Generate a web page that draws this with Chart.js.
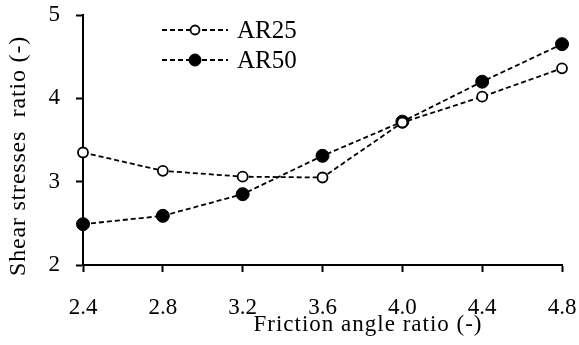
<!DOCTYPE html>
<html>
<head>
<meta charset="utf-8">
<script src="https://cdn.jsdelivr.net/npm/chart.js@4/dist/chart.umd.min.js"></script>
<style>
html, body { margin: 0; padding: 0; background: #fff; }
#wrap { width: 579px; height: 345px; }
</style>
</head>
<body>
<div id="wrap"><canvas id="myChart"></canvas></div>
<script>
// friction angle ratio on x, shear stress ratio on y
const frictionRatio = ['2.4', '2.8', '3.2', '3.6', '4.0', '4.4', '4.8'];
const ar25 = [3.35, 3.13, 3.06, 3.05, 3.71, 4.02, 4.36];
const ar50 = [2.49, 2.59, 2.85, 3.31, 3.72, 4.20, 4.65];
const yMin = 2, yMax = 5, yStep = 1;

const serif = '"Liberation Serif", "Times New Roman", serif';

// axis titles + legend with line and marker
const extras = {
    id: 'extras',
    afterDraw(chart) {
        const { ctx, chartArea: a } = chart;
        ctx.save();
        ctx.fillStyle = '#000';
        ctx.font = '23px ' + serif;
        ctx.textAlign = 'center';
        ctx.textBaseline = 'middle';
        ctx.letterSpacing = '1px';
        ctx.fillText('Friction angle ratio (-)', a.left + 285, a.bottom + 60);
        ctx.font = '24px ' + serif;
        ctx.letterSpacing = '0.8px';
        ctx.translate(19, a.top + 141);
        ctx.rotate(-Math.PI / 2);
        ctx.fillText('Shear stresses  ratio (-)', 0, 0);
        ctx.restore();

        chart.data.datasets.forEach((ds, i) => {
            const y = a.top + 15 + i * 30;
            const x0 = a.left + 79, x1 = a.left + 145;
            ctx.save();
            ctx.strokeStyle = ds.borderColor;
            ctx.lineWidth = ds.borderWidth;
            ctx.setLineDash(ds.borderDash);
            ctx.beginPath();
            ctx.moveTo(x0, y);
            ctx.lineTo(x1, y);
            ctx.stroke();
            ctx.setLineDash([]);
            ctx.beginPath();
            ctx.arc((x0 + x1) / 2, y, ds.pointRadius - 0.5, 0, Math.PI * 2);
            ctx.fillStyle = ds.pointBackgroundColor;
            ctx.fill();
            ctx.lineWidth = ds.pointBorderWidth;
            ctx.strokeStyle = ds.pointBorderColor;
            ctx.stroke();
            ctx.fillStyle = '#000';
            ctx.font = '25px ' + serif;
            ctx.textAlign = 'left';
            ctx.textBaseline = 'middle';
            ctx.fillText(ds.label, x1 + 9, y + 1);
            ctx.restore();
        });
    }
};

function fixBox(s, size) {
    if (s.isHorizontal()) s.height = size; else s.width = size;
    s.paddingTop = 0;
    s.paddingBottom = 0;
    s.paddingLeft = 0;
    s.paddingRight = 0;
}

const ctx = document.getElementById('myChart');
new Chart(ctx, {
    type: 'line',
    data: {
        labels: frictionRatio,
        datasets: [{
            label: 'AR25',
            data: ar25,
            borderColor: '#000',
            borderWidth: 1.8,
            borderDash: [5, 3],
            pointRadius: 5,
            pointBorderWidth: 1.8,
            pointBackgroundColor: '#fff',
            pointBorderColor: '#000',
            tension: 0,
            clip: false
        }, {
            label: 'AR50',
            data: ar50,
            borderColor: '#000',
            borderWidth: 1.8,
            borderDash: [5, 3],
            pointRadius: 6.5,
            pointBorderWidth: 1,
            pointBackgroundColor: '#000',
            pointBorderColor: '#000',
            tension: 0,
            clip: false
        }]
    },
    options: {
        responsive: true,
        maintainAspectRatio: false,
        animation: false,
        layout: { autoPadding: false, padding: { left: 0, top: 15, right: 17, bottom: 0 } },
        plugins: {
            legend: { display: false },
            tooltip: { enabled: false }
        },
        scales: {
            x: {
                type: 'category',
                offset: false,
                grid: { display: true, drawOnChartArea: false, tickLength: 7, tickWidth: 2, tickColor: '#000' },
                border: { display: true, color: '#000', width: 2 },
                ticks: { color: '#000', padding: 22, maxRotation: 0, font: { family: serif, size: 23 } },
                afterFit: s => fixBox(s, 80)
            },
            y: {
                min: yMin,
                max: yMax,
                grid: { display: true, drawOnChartArea: false, tickLength: 7, tickWidth: 2, tickColor: '#000' },
                border: { display: true, color: '#000', width: 2 },
                ticks: { color: '#000', padding: 16, stepSize: yStep, font: { family: serif, size: 23 } },
                afterFit: s => fixBox(s, 83)
            }
        }
    },
    plugins: [extras]
});
</script>
</body>
</html>
